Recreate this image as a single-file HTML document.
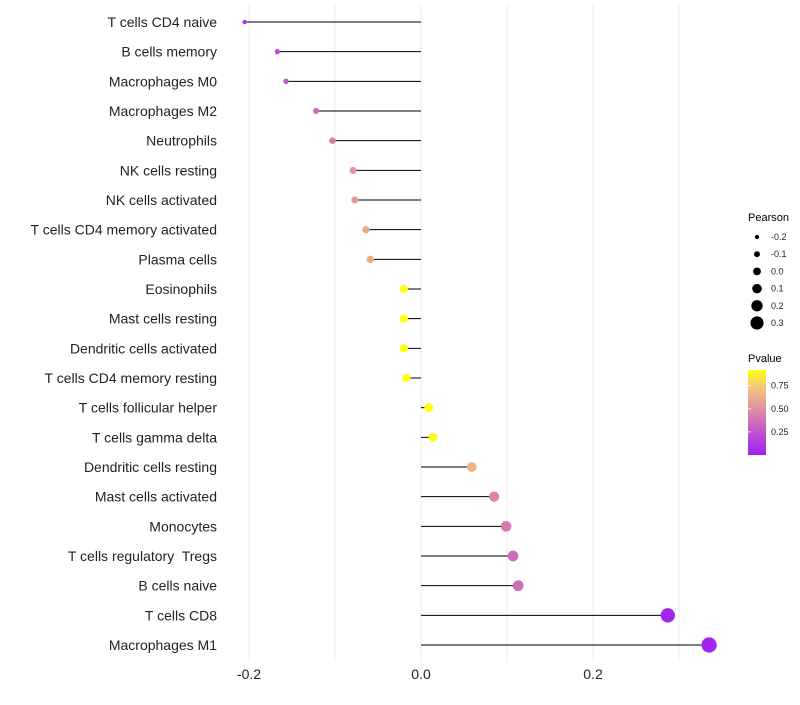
<!DOCTYPE html>
<html><head><meta charset="utf-8"><style>
body{margin:0;background:#fff;font-family:"Liberation Sans",sans-serif;}
text{white-space:pre;}
</style></head><body>
<svg id="chart" width="800" height="700" xmlns="http://www.w3.org/2000/svg" font-family="Liberation Sans, sans-serif">
<defs><linearGradient id="pg" x1="0" y1="1" x2="0" y2="0">
<stop offset="0" stop-color="#a020f0"/><stop offset="0.3" stop-color="#c45ac8"/><stop offset="0.55" stop-color="#e0929f"/><stop offset="0.8" stop-color="#f2c67a"/><stop offset="1" stop-color="#ffff10"/></linearGradient></defs>
<g id="grid"></g><g id="marks"></g><g id="labels"></g>
<g>
<text x="748" y="221" font-size="11">Pearson</text>
<g id="sizeleg"></g>
<text x="748" y="362" font-size="11">Pvalue</text>
<rect x="748" y="370" width="18" height="85" fill="url(#pg)"/>
<g id="colleg"></g>
</g>
</svg>
<script>
const categories=["T cells CD4 naive","B cells memory","Macrophages M0","Macrophages M2","Neutrophils","NK cells resting","NK cells activated","T cells CD4 memory activated","Plasma cells","Eosinophils","Mast cells resting","Dendritic cells activated","T cells CD4 memory resting","T cells follicular helper","T cells gamma delta","Dendritic cells resting","Mast cells activated","Monocytes","T cells regulatory  Tregs","B cells naive","T cells CD8","Macrophages M1"];
const pearson=[-0.205,-0.167,-0.157,-0.122,-0.103,-0.079,-0.077,-0.064,-0.059,-0.020,-0.020,-0.020,-0.017,0.009,0.014,0.059,0.085,0.099,0.107,0.113,0.287,0.335];
const pvalue=[0.12,0.2,0.25,0.35,0.42,0.52,0.53,0.62,0.63,0.92,0.92,0.92,0.92,0.92,0.92,0.65,0.45,0.4,0.36,0.36,0.03,0.02];
const xTicks=[-0.2,0.0,0.2];
const xMinor=[-0.1,0.1,0.3];
const sizeLegend=[-0.2,-0.1,0.0,0.1,0.2,0.3];
const colorTicks=[0.25,0.5,0.75];
const NS="http://www.w3.org/2000/svg";
const xs=v=>421+v*860;
const ys=i=>22+i*(623/21);
const rs=v=>2.1+(v+0.22)*10;
const stops=[[0,[160,32,240]],[0.28,[196,90,200]],[0.5,[224,146,159]],[0.74,[242,198,122]],[0.92,[255,255,16]]];
function col(p){if(p<=0)p=0;for(let k=1;k<stops.length;k++){if(p<=stops[k][0]||k==stops.length-1){const a=stops[k-1],b=stops[k];let t=Math.min(1,(p-a[0])/(b[0]-a[0]));return `rgb(${a[1].map((c,j)=>Math.round(c+(b[1][j]-c)*t)).join(',')})`;}}}
const cy=v=>455-v/0.92*85;
function mk(tag,at,parent,txt){const e=document.createElementNS(NS,tag);for(const k in at)e.setAttribute(k,at[k]);if(txt!==undefined)e.textContent=txt;document.getElementById(parent).appendChild(e);return e;}
xTicks.concat(xMinor).forEach(t=>{
 const l=mk('line',{x1:xs(t),x2:xs(t),y1:5,y2:662,stroke:'#ebebeb','stroke-width':1},'grid');
 
 
});
xTicks.forEach(t=>{
 const e=mk('text',{x:xs(t),y:679,'font-size':14,'text-anchor':'middle',fill:'#222'},'labels',t.toFixed(1));
 
 
});
categories.forEach((c,i)=>{
 const e=mk('text',{x:217,y:ys(i)+5,'font-size':14,'text-anchor':'end',fill:'#222'},'labels',c);
 
 
 const l=mk('line',{x1:xs(0),x2:xs(pearson[i]),y1:ys(i),y2:ys(i),stroke:'#000','stroke-width':1},'marks');
 
 
 const d=mk('circle',{cx:xs(pearson[i]),cy:ys(i),r:rs(pearson[i]),fill:col(pvalue[i])},'marks');
 
 
});
sizeLegend.forEach((v,k)=>{
 const y=237+k*17.2;
 const d=mk('circle',{cx:757,cy:y,r:rs(v)*0.9,fill:'#000'},'sizeleg');
 
 
 const t=mk('text',{x:771,y:y+3,'font-size':9,fill:'#222'},'sizeleg',v.toFixed(1));
 
 
});
colorTicks.forEach(v=>{
 const y=cy(v);
 const l=mk('line',{x1:748,x2:751,y1:y,y2:y,stroke:'#fff','stroke-width':0.8},'colleg');
 
 
 const t=mk('text',{x:771,y:y+3,'font-size':9,fill:'#222'},'colleg',v.toFixed(2));
 
 
});
</script>
</body></html>
